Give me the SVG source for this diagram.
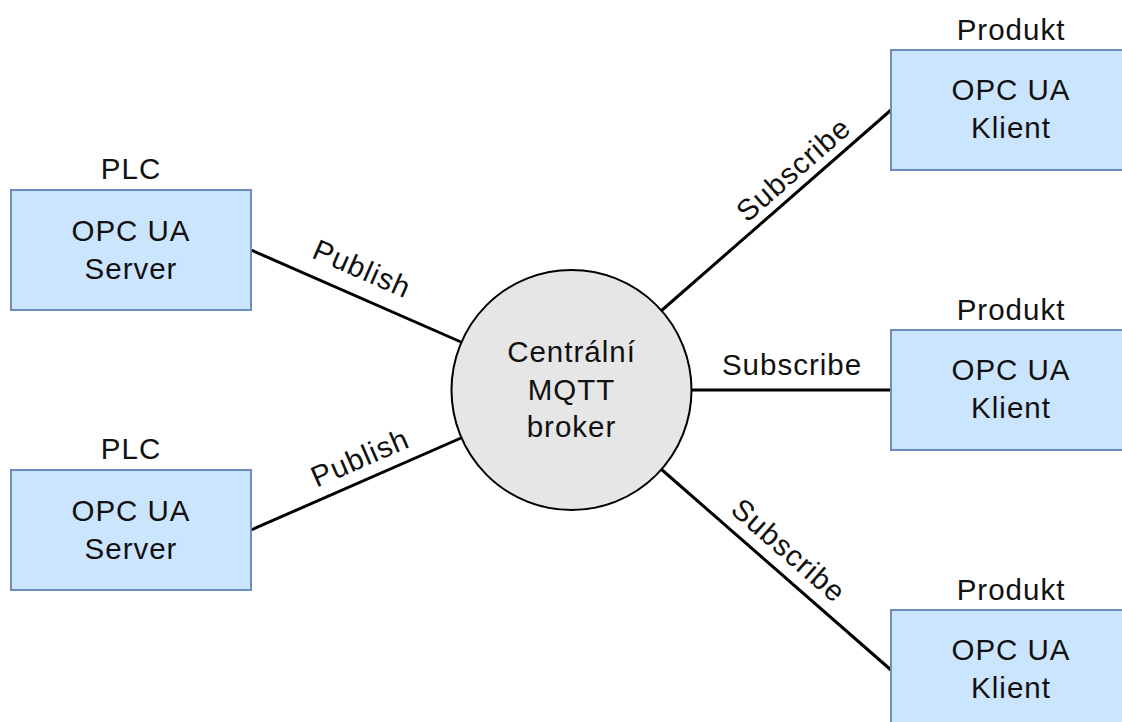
<svg xmlns="http://www.w3.org/2000/svg" width="1122" height="722" viewBox="0 0 1122 722">
<style>
text{font-family:"Liberation Sans",Arial,sans-serif;font-size:29.5px;letter-spacing:1px;fill:#111;text-anchor:middle}
.box{fill:#cce5ff;stroke:#6c8ebf;stroke-width:2}
.hub{fill:#e6e6e6;stroke:#000;stroke-width:2}
.ln{stroke:#000;stroke-width:3;fill:none}
</style>
<rect width="1122" height="722" fill="#fff"/>
<g id="connectors">
<line class="ln" x1="251" y1="250" x2="461" y2="342"/>
<line class="ln" x1="251" y1="530" x2="461" y2="438"/>
<line class="ln" x1="891" y1="110" x2="661" y2="311"/>
<line class="ln" x1="891" y1="390" x2="692" y2="390"/>
<line class="ln" x1="891" y1="670" x2="661" y2="469"/>
<text transform="translate(358,278) rotate(23.6)">Publish</text>
<text transform="translate(364,467) rotate(-23.6)">Publish</text>
<text transform="translate(800,177) rotate(-41.2)">Subscribe</text>
<text x="792" y="375">Subscribe</text>
<text transform="translate(782,558) rotate(41.2)">Subscribe</text>
</g>
<g id="plc1">
<text x="131" y="179">PLC</text>
<rect class="box" x="11" y="190" width="240" height="120"/>
<text x="131" y="241">OPC UA</text>
<text x="131" y="279">Server</text>
</g>
<g id="plc2">
<text x="131" y="459">PLC</text>
<rect class="box" x="11" y="470" width="240" height="120"/>
<text x="131" y="521">OPC UA</text>
<text x="131" y="559">Server</text>
</g>
<g id="broker">
<circle class="hub" cx="571.5" cy="390" r="120"/>
<text x="571.5" y="362">Centrální</text>
<text x="571.5" y="400">MQTT</text>
<text x="571.5" y="437">broker</text>
</g>
<g id="klient1">
<text x="1011" y="40">Produkt</text>
<rect class="box" x="891" y="50" width="240" height="120"/>
<text x="1011" y="100">OPC UA</text>
<text x="1011" y="138">Klient</text>
</g>
<g id="klient2">
<text x="1011" y="320">Produkt</text>
<rect class="box" x="891" y="330" width="240" height="120"/>
<text x="1011" y="380">OPC UA</text>
<text x="1011" y="418">Klient</text>
</g>
<g id="klient3">
<text x="1011" y="600">Produkt</text>
<rect class="box" x="891" y="610" width="240" height="120"/>
<text x="1011" y="660">OPC UA</text>
<text x="1011" y="698">Klient</text>
</g>
</svg>
